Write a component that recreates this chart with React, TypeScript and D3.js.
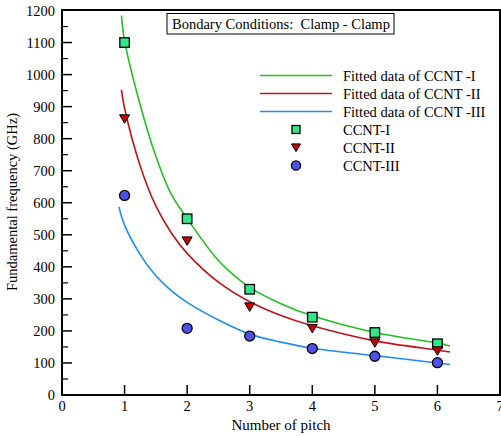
import * as d3 from 'd3';

// chart values
const pitch = [1, 2, 3, 4, 5, 6];
const ccnt1 = [1100, 550, 330, 243, 195, 160];
const ccnt2 = [862, 481, 275, 208, 163, 138];
const ccnt3 = [623, 208, 184, 145, 121, 101];

// sampled points of the fitted curves
const fitX1 = [0.95, 1, 1.25, 1.5, 1.75, 2, 2.5, 3, 3.5, 4, 5, 6, 6.2];
const fitY1 = [1184, 1105, 905, 745, 625, 551, 420, 336, 285, 247, 195, 162, 153];
const fitX2 = [0.95, 1, 1.25, 1.5, 1.75, 2, 2.5, 3, 3.5, 4, 5, 6, 6.2];
const fitY2 = [952, 895, 715, 590, 505, 442, 352, 291, 248, 216, 169, 140, 134];
const fitX3 = [0.91, 1, 1.25, 1.5, 1.75, 2, 2.5, 3, 3.5, 4, 5, 6, 6.2];
const fitY3 = [587, 530, 438, 372, 325, 289, 234, 190, 165, 146, 123, 100, 95];

const xTicks = [0, 1, 2, 3, 4, 5, 6, 7];
const yTicks = [0, 100, 200, 300, 400, 500, 600, 700, 800, 900, 1000, 1100, 1200];
const yMinor = [50, 150, 250, 350, 450, 550, 650, 750, 850, 950, 1050, 1150];

const titleText = 'Bondary Conditions:  Clamp - Clamp';
const legendLines = ['Fitted data of CCNT -I', 'Fitted data of CCNT -II', 'Fitted data of CCNT -III'];
const legendMarks = ['CCNT-I', 'CCNT-II', 'CCNT-III'];

const W = 501;
const H = 436;
const FONT = '"Liberation Serif", "Times New Roman", serif';

const GREEN = '#1fc21f';
const RED = '#c0141c';
const BLUE = '#1e8cf0';
const SQ_FILL = '#2ee88a';
const TRI_FILL = '#cc0000';
const CIR_FILL = '#5050ea';

const x = d3.scaleLinear().domain([0, 7]).range([62, 500]);
const y = d3.scaleLinear().domain([0, 1200]).range([395, 10.5]);

const line = d3
  .line<[number, number]>()
  .x(d => x(d[0]))
  .y(d => y(d[1]))
  .curve(d3.curveCatmullRom.alpha(0.5));

const zip = (a: number[], b: number[]) => a.map((v, i) => [v, b[i]] as [number, number]);

const Square = ({ cx, cy, s }: { cx: number; cy: number; s: number }) => (
  <rect x={cx - s / 2} y={cy - s / 2} width={s} height={s} fill={SQ_FILL} stroke="#000" strokeWidth={1.3} />
);
const Triangle = ({ cx, cy, s }: { cx: number; cy: number; s: number }) => (
  <path
    d={`M${cx - s / 2},${cy - s * 0.4}L${cx + s / 2},${cy - s * 0.4}L${cx},${cy + s * 0.45}Z`}
    fill={TRI_FILL}
    stroke="#000"
    strokeWidth={1}
  />
);
const Circle = ({ cx, cy, r }: { cx: number; cy: number; r: number }) => (
  <circle cx={cx} cy={cy} r={r} fill={CIR_FILL} stroke="#000" strokeWidth={1.3} />
);

export default function App() {
  const fits = [
    { d: line(zip(fitX1, fitY1)), c: GREEN },
    { d: line(zip(fitX2, fitY2)), c: RED },
    { d: line(zip(fitX3, fitY3)), c: BLUE },
  ];

  // legend rows
  const lx0 = 260;
  const lx1 = 332;
  const ltx = 343;
  const rowY = (i: number) => 75.5 + i * 18;

  return (
    <svg
      width={W}
      height={H}
      style={{ position: 'absolute', left: 0, top: 0, background: '#fff' }}
      fontFamily={FONT}
    >
      <rect width={W} height={H} fill="#fff" />

      {/* fitted curves */}
      {fits.map((f, i) => (
        <path key={i} d={f.d || ''} fill="none" stroke={f.c} strokeWidth={1.6} />
      ))}

      {/* data markers */}
      {pitch.map((p, i) => (
        <Square key={'s' + i} cx={x(p)} cy={y(ccnt1[i])} s={9.5} />
      ))}
      {pitch.map((p, i) => (
        <Triangle key={'t' + i} cx={x(p)} cy={y(ccnt2[i])} s={10} />
      ))}
      {pitch.map((p, i) => (
        <Circle key={'c' + i} cx={x(p)} cy={y(ccnt3[i])} r={5} />
      ))}

      {/* frame */}
      <rect x={62} y={10} width={438} height={385} fill="none" stroke="#000" strokeWidth={2} />

      {/* y ticks */}
      {yTicks.map(t => (
        <g key={'y' + t}>
          {t > 0 && t < 1200 && <line x1={62} x2={72} y1={y(t)} y2={y(t)} stroke="#000" strokeWidth={1.5} />}
          <text x={55} y={y(t) + 5} textAnchor="end" fontSize={14.5}>
            {t}
          </text>
        </g>
      ))}
      {yMinor.map(t => (
        <line key={'ym' + t} x1={62} x2={68} y1={y(t)} y2={y(t)} stroke="#000" strokeWidth={1.2} />
      ))}

      {/* x ticks */}
      {xTicks.map(t => (
        <g key={'x' + t}>
          {t > 0 && t < 7 && <line x1={x(t)} x2={x(t)} y1={395} y2={385} stroke="#000" strokeWidth={1.5} />}
          <text x={x(t)} y={411} textAnchor="middle" fontSize={14.5}>
            {t}
          </text>
        </g>
      ))}

      {/* axis titles */}
      <text x={281} y={430} textAnchor="middle" fontSize={15}>
        Number of pitch
      </text>
      <text transform="translate(17,202) rotate(-90)" textAnchor="middle" fontSize={14.5}>
        Fundamental frequency (GHz)
      </text>

      {/* title box */}
      <rect x={167} y={13.5} width={227} height={20.5} fill="#fff" stroke="#000" strokeWidth={1} />
      <text x={172} y={29} fontSize={14.5} style={{ whiteSpace: 'pre' }}>
        {titleText}
      </text>

      {/* legend */}
      {legendLines.map((l, i) => (
        <g key={'ll' + i}>
          <line x1={lx0} x2={lx1} y1={rowY(i)} y2={rowY(i)} stroke={fits[i].c} strokeWidth={1.6} />
          <text x={ltx} y={rowY(i) + 5} fontSize={14.5}>
            {l}
          </text>
        </g>
      ))}
      {legendMarks.map((l, i) => {
        const cy = rowY(i + 3);
        return (
          <g key={'lm' + i}>
            {i === 0 && <Square cx={296} cy={cy} s={8} />}
            {i === 1 && <Triangle cx={296} cy={cy} s={9} />}
            {i === 2 && <Circle cx={296} cy={cy} r={4.6} />}
            <text x={ltx} y={cy + 5} fontSize={14.5}>
              {l}
            </text>
          </g>
        );
      })}
    </svg>
  );
}
